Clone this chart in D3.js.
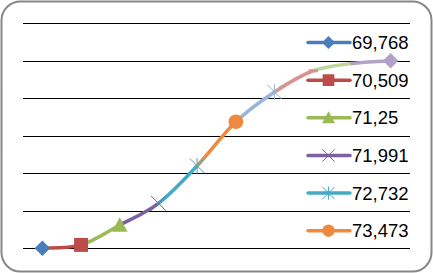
<!DOCTYPE html>
<html>
<head>
<meta charset="utf-8">
<script src="https://cdn.jsdelivr.net/npm/d3@7"></script>
<style>
  html, body { margin: 0; padding: 0; background: #fff; }
  svg { display: block; }
  .legend-label { font-family: "Liberation Sans", Arial, sans-serif; font-size: 18.5px; fill: #000; }
</style>
</head>
<body>
<svg id="chart" width="433" height="273"></svg>
<script>
// categories shown in the legend (only the first six fit)
const legendLabels = ['69,768', '70,509', '71,25', '71,991', '72,732', '73,473'];
// y values of the ten points
const values = [0, 0.018, 0.124, 0.24, 0.44, 0.675, 0.834, 0.947, 0.986, 1.0];
// marker of each point
const markers = ['diamond', 'square', 'triangle', 'x', 'star', 'circle', 'star', 'dash', 'none', 'diamond'];
const colors = ['#4A7EBB', '#BE4B48', '#98B954', '#7D60A0', '#46AAC5', '#EE8A3E',
                '#97B4DA', '#D9938F', '#BFD69C', '#B3A2C8'];
const yTicks = [0, 0.2, 0.4, 0.6, 0.8, 1.0, 1.2];

const svg = d3.select('#chart');
const W = +svg.attr('width');
const H = +svg.attr('height');

// chart frame
svg.append('rect')
  .attr('x', 1.5).attr('y', 1.5)
  .attr('width', W - 3).attr('height', H - 3)
  .attr('rx', 19).attr('ry', 19)
  .attr('fill', '#fff')
  .attr('stroke', '#878787')
  .attr('stroke-width', 2);

const plot = {left: 23, right: 410, top: 23.3, bottom: 248.3};

const xScale = d3.scalePoint()
  .domain(d3.range(values.length))
  .range([plot.left, plot.right])
  .padding(0.5);

const yScale = d3.scaleLinear()
  .domain([0, 1.2])
  .range([plot.bottom, plot.top]);

// gridlines
const yAxis = d3.axisLeft(yScale)
  .tickValues(yTicks)
  .tickSize(-(plot.right - plot.left))
  .tickFormat('');
const yAxisG = svg.append('g')
  .attr('transform', `translate(${plot.left},0)`)
  .call(yAxis);
yAxisG.select('.domain').remove();
yAxisG.selectAll('line').attr('stroke', '#000').attr('shape-rendering', 'crispEdges');

// marker drawing
function drawMarker(g, type, cx, cy, color, s) {
  const h = s / 2;
  if (type === 'diamond') {
    g.append('path')
      .attr('d', `M${cx},${cy - h}L${cx + h},${cy}L${cx},${cy + h}L${cx - h},${cy}Z`)
      .attr('fill', color);
  } else if (type === 'square') {
    g.append('rect')
      .attr('x', cx - h * 0.9).attr('y', cy - h * 0.9)
      .attr('width', s * 0.9).attr('height', s * 0.9)
      .attr('fill', color);
  } else if (type === 'triangle') {
    g.append('path')
      .attr('d', `M${cx},${cy - h}L${cx + h},${cy + h * 0.85}L${cx - h},${cy + h * 0.85}Z`)
      .attr('fill', color);
  } else if (type === 'circle') {
    g.append('circle')
      .attr('cx', cx).attr('cy', cy).attr('r', h * 0.95)
      .attr('fill', color);
  } else if (type === 'x' || type === 'star') {
    const d = h * 0.95;
    let p = `M${cx - d},${cy - d}L${cx + d},${cy + d}M${cx - d},${cy + d}L${cx + d},${cy - d}`;
    if (type === 'star') p += `M${cx},${cy - h}L${cx},${cy + h}`;
    g.append('path')
      .attr('d', p)
      .attr('fill', 'none')
      .attr('stroke', color)
      .attr('stroke-width', 1);
  } else if (type === 'dash') {
    g.append('rect')
      .attr('x', cx - h * 0.6).attr('y', cy - 1.5)
      .attr('width', s * 0.6).attr('height', 3)
      .attr('fill', color);
  }
}

// smooth line, one coloured piece per segment (Excel style)
const pts = values.map((v, i) => [xScale(i), yScale(v)]);
const lineG = svg.append('g');
for (let i = 0; i < pts.length - 1; i++) {
  const p0 = pts[Math.max(i - 1, 0)];
  const p1 = pts[i];
  const p2 = pts[i + 1];
  const p3 = pts[Math.min(i + 2, pts.length - 1)];
  const path = d3.path();
  path.moveTo(p1[0], p1[1]);
  path.bezierCurveTo(
    p1[0] + (p2[0] - p0[0]) / 6, p1[1] + (p2[1] - p0[1]) / 6,
    p2[0] - (p3[0] - p1[0]) / 6, p2[1] - (p3[1] - p1[1]) / 6,
    p2[0], p2[1]);
  lineG.append('path')
    .attr('d', path.toString())
    .attr('fill', 'none')
    .attr('stroke', colors[i + 1])
    .attr('stroke-width', 3.5)
    .attr('stroke-linecap', 'round');
}

const markerG = svg.append('g');
pts.forEach((p, i) => {
  drawMarker(markerG, markers[i], p[0], p[1], colors[i], 15.5);
});

// legend
const legendRow = d3.scalePoint()
  .domain(d3.range(legendLabels.length))
  .range([42.5, 230.7]);

const legend = svg.append('g');
legendLabels.forEach((lab, i) => {
  const y = legendRow(i);
  legend.append('line')
    .attr('x1', 308).attr('x2', 350)
    .attr('y1', y).attr('y2', y)
    .attr('stroke', colors[i])
    .attr('stroke-width', 3.5)
    .attr('stroke-linecap', 'round');
  drawMarker(legend, markers[i], 328.5, y, colors[i], 13);
  legend.append('text')
    .attr('class', 'legend-label')
    .attr('x', 352)
    .attr('y', y + 6.6)
    .text(lab);
});
</script>
</body>
</html>
